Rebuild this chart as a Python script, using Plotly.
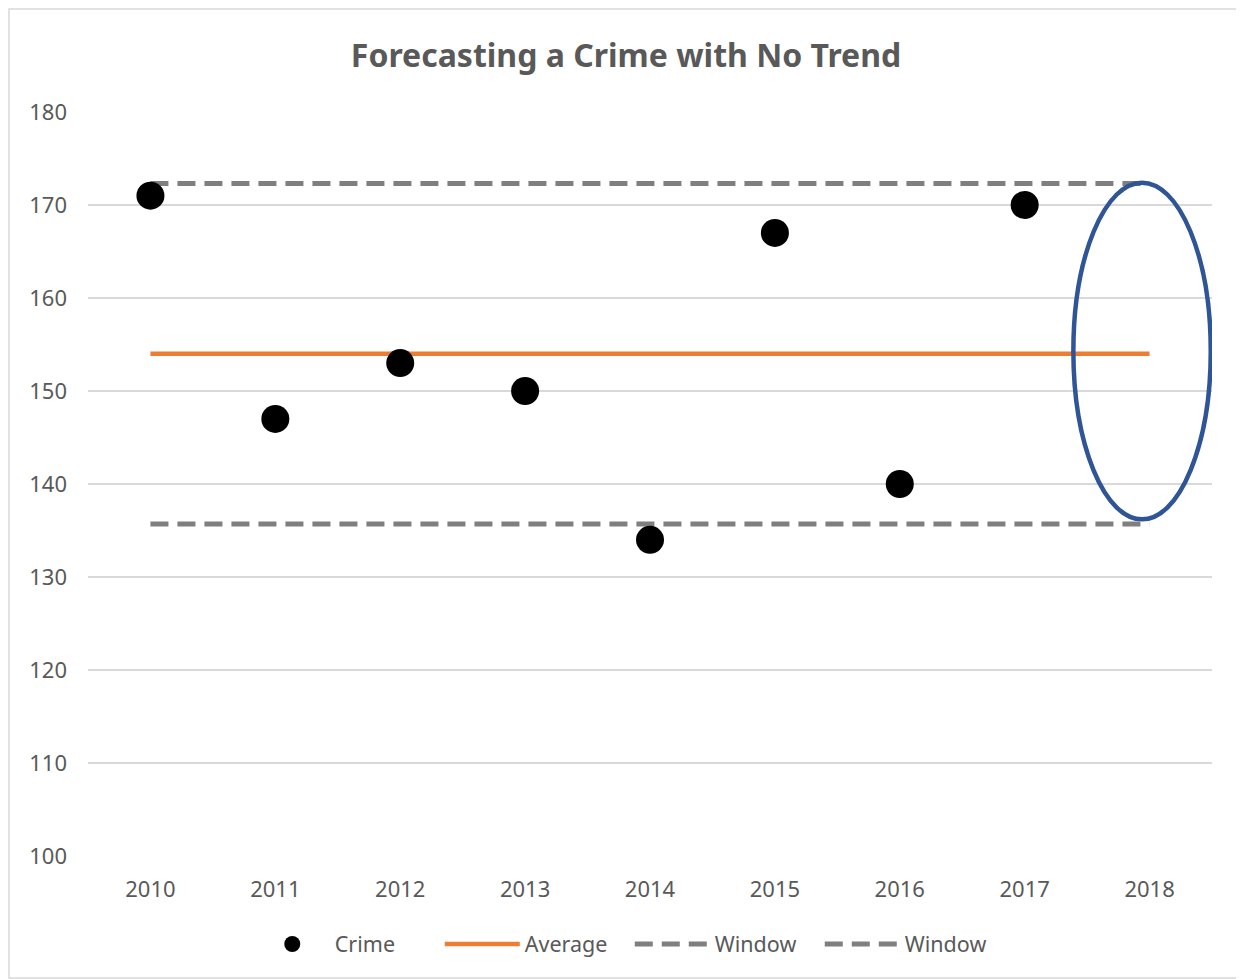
import plotly.graph_objects as go

years = ['2010', '2011', '2012', '2013', '2014', '2015', '2016', '2017', '2018']
crime = [171, 147, 153, 150, 134, 167, 140, 170, None]
average = [154, 154, 154, 154, 154, 154, 154, 154, 154]
window_upper = [172.3, 172.3, 172.3, 172.3, 172.3, 172.3, 172.3, 172.3, 172.3]
window_lower = [135.7, 135.7, 135.7, 135.7, 135.7, 135.7, 135.7, 135.7, 135.7]
y_ticks = [100, 110, 120, 130, 140, 150, 160, 170, 180]

FONT = 'Noto Sans'
GREY_TEXT = '#595959'

# plot area is 1124 x 744 px; the page body adds an 8px margin
W, H = 1236, 971
L, T, PW, PH = 80, 104, 1124, 744

fig = go.Figure()

fig.add_trace(go.Scatter(x=years, y=window_upper, name='Window', mode='lines',
                         line=dict(color='#7F7F7F', width=5, dash='18px,9px')))
fig.add_trace(go.Scatter(x=years, y=window_lower, name='Window', mode='lines',
                         line=dict(color='#7F7F7F', width=5, dash='18px,9px')))
fig.add_trace(go.Scatter(x=years, y=average, name='Average', mode='lines',
                         line=dict(color='#ED7D31', width=4.5)))
fig.add_trace(go.Scatter(x=years, y=crime, name='Crime', mode='markers',
                         marker=dict(color='black', size=28)))

# order the legend like the original: Crime, Average, Window, Window
fig.data[3].legendrank = 1
fig.data[2].legendrank = 2
fig.data[0].legendrank = 3
fig.data[1].legendrank = 4

fig.update_layout(
    width=W, height=H,
    paper_bgcolor='white', plot_bgcolor='white',
    margin=dict(l=L, r=W - L - PW, t=T, b=H - T - PH),
    title=dict(text='<b>Forecasting a Crime with No Trend</b>', x=0.5, xanchor='center',
               y=1 - 48 / H, yanchor='middle',
               font=dict(family=FONT, size=32, color=GREY_TEXT)),
    font=dict(family=FONT, color=GREY_TEXT),
    xaxis=dict(type='category', range=[-0.5, 8.5], showgrid=False, showline=False,
               zeroline=False, ticks='', ticklabelstandoff=18,
               tickfont=dict(size=22, color=GREY_TEXT)),
    yaxis=dict(range=[100, 180], tickvals=y_ticks, showgrid=True, gridcolor='#D9D9D9',
               gridwidth=1.5, zeroline=False, showline=False, ticks='',
               ticklabelstandoff=20, tickfont=dict(size=22, color=GREY_TEXT)),
    legend=dict(orientation='h', x=0.482, xanchor='center', y=-88 / PH, yanchor='middle',
                font=dict(size=21.5, color=GREY_TEXT), traceorder='normal',
                itemwidth=75, entrywidth=100, bgcolor='rgba(0,0,0,0)'),
    shapes=[
        dict(type='circle', xref='x', yref='y', x0=7.39, x1=8.49, y0=136.2, y1=172.4,
             line=dict(color='#2F5597', width=4.5)),
        dict(type='rect', xref='paper', yref='paper',
             x0=(1 - L) / PW, x1=(W - 2 - L) / PW,
             y0=-(H - 1 - T - PH) / PH, y1=1 + (T - 1) / PH,
             line=dict(color='#D9D9D9', width=1.5), layer='above'),
    ],
)

fig.write_html('out.html')
